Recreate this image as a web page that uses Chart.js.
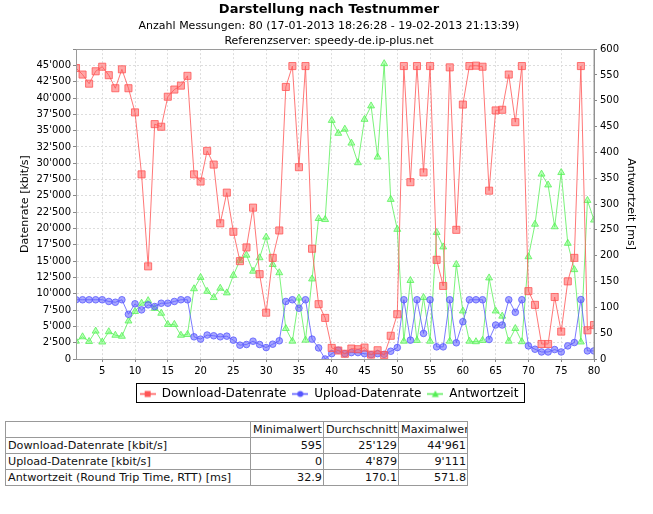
<!DOCTYPE html>
<html>
<head>
<meta charset="utf-8">
<script src="https://cdn.jsdelivr.net/npm/chart.js@4.4.1/dist/chart.umd.min.js"></script>
<style>
  html, body { margin: 0; padding: 0; background: #fff; }
  #wrap { position: relative; width: 653px; height: 514px; }
  #c { position: absolute; left: 0; top: 0; }
  table.stats {
    position: absolute; left: 5px; top: 421px; table-layout: fixed; width: 462px;
    border-collapse: collapse; font-family: "DejaVu Sans", Verdana, sans-serif;
    font-size: 11.2px; color: #111;
  }
  table.stats td { border: 1px solid #999; height: 15px; padding: 0 1px 0 2px; white-space: nowrap; overflow: hidden; line-height: 15px; }
  table.stats td.n { text-align: right; }
</style>
</head>
<body>
<div id="wrap">
<canvas id="c" width="653" height="410"></canvas>
<table class="stats" id="stats"></table>
</div>
<script>
// ---------- data ----------
const testNr = [1,2,3,4,5,6,7,8,9,10,11,12,13,14,15,16,17,18,19,20,21,22,23,24,25,26,27,28,29,30,31,32,33,34,35,36,37,38,39,40,41,42,43,44,45,46,47,48,49,50,51,52,53,54,55,56,57,58,59,60,61,62,63,64,65,66,67,68,69,70,71,72,73,74,75,76,77,78,79,80];
const download = [44600,43600,42200,44100,44800,43500,41500,44400,41500,37800,
                  28300,14200,36000,35600,40200,41300,41900,43400,28300,27200,
                  31900,29800,20800,25500,19500,15000,17100,23200,13000,7100,
                  15500,19700,41700,44900,29400,44900,16900,8400,6300,1700,
                  1300,800,1600,1500,1750,670,1340,595,3560,6860,
                  44900,27100,44900,28600,44900,15200,11200,44700,19800,39000,
                  44900,44961,44800,25800,38100,38200,43600,36300,44900,10400,
                  8300,2300,2300,9500,4200,11900,15500,44900,4400,5200];
const upload = [9080,9080,9080,9080,9080,8820,8700,9080,6850,8460,
                7530,8300,8040,8550,8550,8820,9080,9080,3400,3050,
                3670,3560,3400,3500,2890,2120,2220,2730,2220,1750,
                2270,2790,8820,9080,7790,9080,3050,1700,0,820,
                1340,820,980,980,820,670,820,720,1190,1750,
                9080,2890,9080,3920,9080,1860,1860,9080,2480,5720,
                9080,9080,9080,2990,5210,5210,9080,7160,9080,2010,
                1500,1080,1080,1450,1080,2010,2520,9111,1240,1240];
const antwortzeit = [34.5,43,34,54,32.9,52.8,46,44,73.6,92,
                     108,113,98,88.6,67,67,46,47.5,136,158,
                     131,119,137,128,162,191,201,170,196,236,
                     183,167,59,34.5,118,36.5,155,272,270,462,
                     437,445,418,380,464,490,391,571.8,309,251,
                     34.5,152,36,119,34.5,245,217,34.5,183,93,
                     34.5,33.5,36,157,93,83,34.5,59,33.5,198,
                     261,358,337,256,361,224,173,33,307,269];
const xTicks = [5,10,15,20,25,30,35,40,45,50,55,60,65,70,75,80];
const seriesNames = ["Download-Datenrate","Upload-Datenrate","Antwortzeit"];
const titleText = "Darstellung nach Testnummer";
const subtitleLines = ["Anzahl Messungen: 80 (17-01-2013 18:26:28 - 19-02-2013 21:13:39)",
                       "Referenzserver: speedy-de.ip-plus.net"];
const tableHeader = ["", "Minimalwert", "Durchschnitt", "Maximalwert"];
const tableRows = [
  ["Download-Datenrate [kbit/s]", "595", "25'129", "44'961"],
  ["Upload-Datenrate [kbit/s]", "0", "4'879", "9'111"],
  ["Antwortzeit (Round Trip Time, RTT) [ms]", "32.9", "170.1", "571.8"]
];

// ---------- table ----------
(function(){
  const t = document.getElementById('stats');
  const widths = [245, 73, 75, 69];
  const cg = document.createElement('colgroup');
  widths.forEach(w=>{ const c=document.createElement('col'); c.style.width=w+'px'; cg.appendChild(c); });
  t.appendChild(cg);
  let tr = document.createElement('tr');
  tableHeader.forEach((h)=>{ const td=document.createElement('td'); td.textContent=h; tr.appendChild(td); });
  t.appendChild(tr);
  tableRows.forEach(r=>{
    const tr2=document.createElement('tr');
    r.forEach((v,i)=>{ const td=document.createElement('td'); td.textContent=v; if(i>0) td.className='n'; tr2.appendChild(td); });
    t.appendChild(tr2);
  });
})();

// ---------- styles ----------
const RED = 'rgba(255,85,85,0.8)', RED_F = 'rgba(255,95,95,0.55)';
const BLUE = 'rgba(90,90,255,0.8)', BLUE_F = 'rgba(95,95,255,0.55)';
const GREEN = 'rgba(90,240,90,0.8)', GREEN_F = 'rgba(110,255,110,0.5)';

function legendIcon(color, shape) {
  const c = document.createElement('canvas');
  c.width = 16; c.height = 9;
  const g = c.getContext('2d');
  g.strokeStyle = color; g.lineWidth = 1.5;
  g.beginPath(); g.moveTo(0, 4.5); g.lineTo(16, 4.5); g.stroke();
  g.fillStyle = color;
  g.beginPath();
  if (shape === 'rect') g.rect(5, 1.5, 6, 6);
  else if (shape === 'circle') g.arc(8, 4.5, 3, 0, Math.PI*2);
  else { g.moveTo(8, 1); g.lineTo(11.5, 7.5); g.lineTo(4.5, 7.5); g.closePath(); }
  g.fill();
  return c;
}
const icons = [legendIcon('#f55','rect'), legendIcon('#55f','circle'), legendIcon('#5e5','triangle')];

function fmt(v) { return String(v).replace(/\B(?=(\d{3})+(?!\d))/g, "'"); }
function pts(arr) { return arr.map((v,i)=>({x: testNr[i], y: v})); }

const framePlugin = {
  id: 'frame',
  afterDatasetsDraw(chart) {
    const {ctx, chartArea: a} = chart;
    ctx.save();
    ctx.strokeStyle = '#9a9a9a'; ctx.lineWidth = 1;
    ctx.strokeRect(Math.round(a.left)+0.5, Math.round(a.top)+0.5, Math.round(a.right-a.left)-0.5, Math.round(a.bottom-a.top));
    ctx.restore();
  },
  afterDraw(chart) {
    const lg = chart.legend;
    if (!lg || !lg.legendHitBoxes || !lg.legendHitBoxes.length) return;
    const hb = lg.legendHitBoxes;
    let l = Infinity, r = -Infinity, t = Infinity, b = -Infinity;
    hb.forEach(h=>{ l=Math.min(l,h.left); r=Math.max(r,h.left+h.width); t=Math.min(t,h.top); b=Math.max(b,h.top+h.height); });
    const ctx = chart.ctx;
    ctx.save(); ctx.strokeStyle = '#000'; ctx.lineWidth = 1;
    ctx.strokeRect(Math.round(l-4)+0.5, Math.round(t-5)+0.5, Math.round(r-l+9), Math.round(b-t+7));
    ctx.restore();
  }
};

const FONT = "'DejaVu Sans', sans-serif";

new Chart(document.getElementById('c'), {
  type: 'line',
  data: {
    datasets: [
      { label: seriesNames[0], data: pts(download), yAxisID: 'y',
        borderColor: RED, backgroundColor: RED_F, pointBorderColor: RED, pointBackgroundColor: RED_F,
        borderWidth: 1, pointStyle: 'rect', pointRadius: 5, pointBorderWidth: 1 },
      { label: seriesNames[1], data: pts(upload), yAxisID: 'y',
        borderColor: BLUE, backgroundColor: BLUE_F, pointBorderColor: BLUE, pointBackgroundColor: BLUE_F,
        borderWidth: 1, pointStyle: 'circle', pointRadius: 3.3, pointBorderWidth: 1 },
      { label: seriesNames[2], data: pts(antwortzeit), yAxisID: 'y2',
        borderColor: GREEN, backgroundColor: GREEN_F, pointBorderColor: GREEN, pointBackgroundColor: GREEN_F,
        borderWidth: 1, pointStyle: 'triangle', pointRadius: 4, pointBorderWidth: 1 }
    ]
  },
  options: {
    responsive: false, animation: false, devicePixelRatio: 1,
    layout: { padding: { left: 5, right: 0, top: 0, bottom: 0 } },
    plugins: {
      title: { display: true, text: titleText, color: '#000',
               font: { family: FONT, size: 13, weight: 'bold', lineHeight: 1.2 }, padding: { top: 2, bottom: 0 } },
      subtitle: { display: true, text: subtitleLines, color: '#000',
               font: { family: FONT, size: 11, lineHeight: '15px' }, padding: { top: 1.5, bottom: 0 } },
      legend: { position: 'bottom',
        labels: { usePointStyle: true, pointStyleWidth: 16, boxHeight: 9, color: '#000', padding: 6,
                  font: { family: FONT, size: 12 },
                  generateLabels(chart) {
                    return chart.data.datasets.map((ds,i)=>({ text: ds.label, pointStyle: icons[i], datasetIndex: i,
                      fillStyle: ds.borderColor, strokeStyle: ds.borderColor, lineWidth: 0, hidden: false, fontColor: '#000' }));
                  } } },
      tooltip: { enabled: false }
    },
    scales: {
      x: { type: 'linear', min: 1, max: 80,
           afterBuildTicks(s) { s.ticks = xTicks.map(v=>({value: v})); },
           afterFit(s) { s.height = 23; },
           ticks: { font: { family: FONT, size: 10 }, color: '#000', padding: 3, maxRotation: 0 },
           grid: { color: '#dddddd', tickLength: 3, tickColor: '#888', tickBorderDash: [] },
           border: { display: true, color: '#888', dash: [2,2] } },
      y: { position: 'left', min: 0, max: 47500,
           afterBuildTicks(s) { const t=[]; for (let v=0; v<=47500; v+=2500) t.push({value:v}); s.ticks=t; },
           afterFit(s) { s.width = 71; },
           ticks: { font: { family: FONT, size: 10 }, color: '#000', padding: 2,
                    callback(v) { return v > 45000 ? '' : fmt(v); } },
           title: { display: true, text: 'Datenrate [kbit/s]', color: '#000', font: { family: FONT, size: 11 }, padding: { top: 14, bottom: 0 } },
           grid: { color: '#dddddd', tickLength: 3, tickColor: '#888', tickBorderDash: [] },
           border: { display: true, color: '#888', dash: [2,2] } },
      y2: { position: 'right', min: 0, max: 600,
           afterBuildTicks(s) { const t=[]; for (let v=0; v<=600; v+=50) t.push({value:v}); s.ticks=t; },
           afterFit(s) { s.width = 59; },
           ticks: { font: { family: FONT, size: 10 }, color: '#000', padding: 3 },
           title: { display: true, text: 'Antwortzeit [ms]', color: '#000', font: { family: FONT, size: 11 }, padding: { top: 16, bottom: 0 } },
           grid: { drawOnChartArea: false, tickLength: 3, tickColor: '#888' },
           border: { display: true, color: '#888' } }
    }
  },
  plugins: [framePlugin]
});
</script>
</body>
</html>
